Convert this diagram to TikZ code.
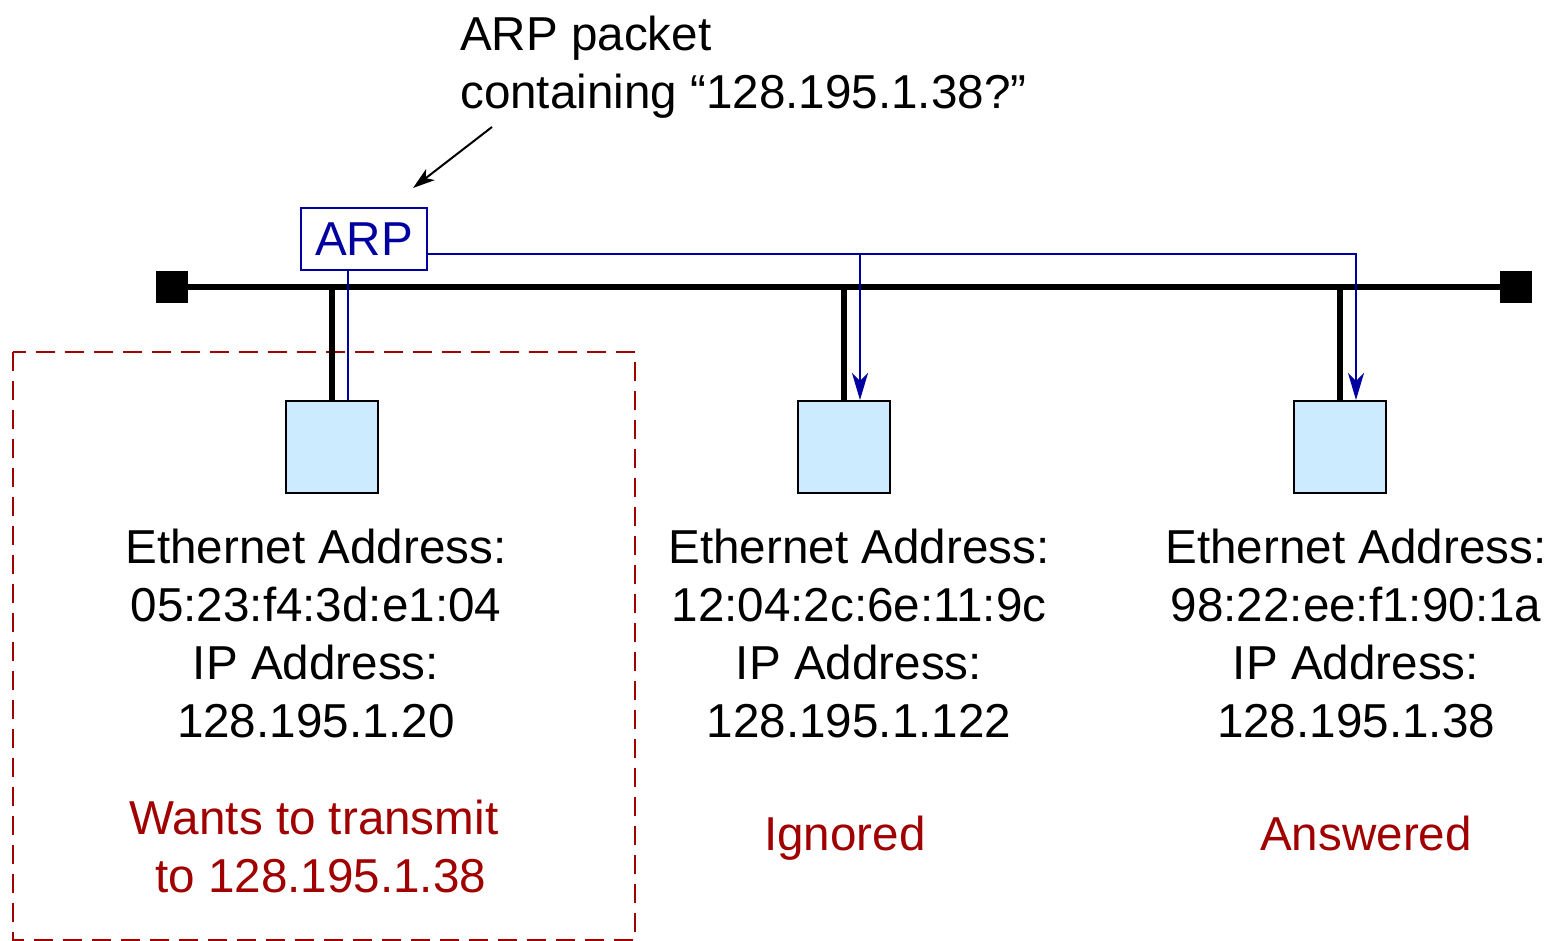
\documentclass[tikz,border=0pt]{standalone}
\usepackage{fontspec}
\setmainfont{Liberation Sans}
\usetikzlibrary{arrows.meta}
\definecolor{pktblue}{RGB}{0,0,160}
\definecolor{noteRed}{RGB}{160,0,0}
\definecolor{hostfill}{RGB}{204,235,255}
\tikzset{
  big/.style={font=\fontsize{47.6}{58}\selectfont},
  bus/.style={line width=6pt},
  host/.style={draw=black, line width=2.5pt, fill=hostfill, minimum width=92pt, minimum height=92pt, inner sep=0pt},
  term/.style={fill=black, minimum width=32pt, minimum height=32pt, inner sep=0pt},
  info/.style={big, align=center, anchor=north, inner sep=0pt},
  note/.style={info, text=noteRed},
  flow/.style={pktblue, line width=2pt},
  flowtip/.style={-{Stealth[length=27pt,width=16pt,inset=8pt]}},
}
\begin{document}
\begin{tikzpicture}[x=1pt,y=-1pt]
\useasboundingbox (0,0) rectangle (1550,941);

% group around the sending host
\draw[noteRed, line width=2pt, dash pattern=on 19pt off 10pt] (13,352) rectangle (635,940);

% terminators and bus
\node[term] (tl) at (172,287) {};
\node[term] (tr) at (1516,287) {};
\draw[bus] (tl.center) -- (tr.center);

% hosts
\node[host] (h1) at (332,447) {};
\node[host] (h2) at (844,447) {};
\node[host] (h3) at (1340,447) {};
\draw[bus] (h1.north) -- (h1.north |- tl.center);
\draw[bus] (h2.north) -- (h2.north |- tl.center);
\draw[bus] (h3.north) -- (h3.north |- tl.center);

% ARP packet
\node[draw=pktblue, line width=2.5pt, fill=white, text=pktblue, big, minimum width=126pt, minimum height=62pt, inner sep=0pt] (arp) at (364,239) {ARP};
\coordinate (a1) at (348,400);
\coordinate (a2) at (860,400);
\coordinate (a3) at (1356,400);
\coordinate (fork) at (860,254);
\draw[flow] (arp.south -| a1) -- (a1);
\draw[flow, flowtip] (arp.east |- fork) -- (fork) -| (a3);
\draw[flow, flowtip] (fork) -- (a2);

% caption for the packet
\node[big, align=left, anchor=north west, inner sep=0pt] (cap) at (460,16) {ARP packet\\containing \char"201C 128.195.1.38?\char"201D};
\coordinate (capArrow) at (492,127);
\draw[line width=2pt, -{Stealth[length=22pt,width=14pt,inset=6pt]}] (capArrow) -- (413,188);

% host addresses
\node[info] (t1) at (316,529) {Ethernet Address:\\05:23:f4:3d:e1:04\\IP Address:\\128.195.1.20};
\node[info] (t2) at (859,529) {Ethernet Address:\\12:04:2c:6e:11:9c\\IP Address:\\128.195.1.122};
\node[info] (t3) at (1356,529) {Ethernet Address:\\98:22:ee:f1:90:1a\\IP Address:\\128.195.1.38};

% outcomes
\node[note] (n1) at (314,800) {Wants to transmit\\\ to 128.195.1.38};
\node[note] (n2) at (845,816) {Ignored};
\node[note] (n3) at (1366,816) {Answered};
\end{tikzpicture}
\end{document}
